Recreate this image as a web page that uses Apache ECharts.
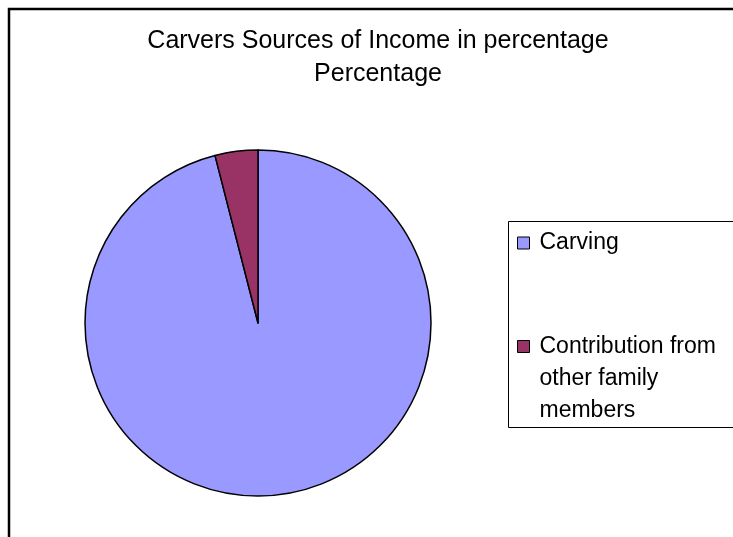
<!DOCTYPE html>
<html>
<head>
<meta charset="utf-8">
<script src="https://cdn.jsdelivr.net/npm/echarts@6/dist/echarts.min.js"></script>
<style>
html,body{margin:0;padding:0;background:#fff;}
#chart{width:733px;height:537px;}
</style>
</head>
<body>
<div id="chart"></div>
<script>
var titleLines = ['Carvers Sources of Income in percentage', 'Percentage'];
var categories = ['Carving', 'Contribution from other family members'];
var legendLabels = ['Carving', '\n\nContribution from\nother family\nmembers'];
var values = [96, 4];
var colors = ['#9999FF', '#993366'];

var chart = echarts.init(document.getElementById('chart'), null, {renderer: 'canvas'});
var font = 'Liberation Sans, Arial, sans-serif';

var legendText = {};
categories.forEach(function (c, i) { legendText[c] = legendLabels[i]; });

var squareIcon = 'path://M0,0L12,0L12,12L0,12Z';

function makeLegend(i, top, lh) {
  return {
    orient: 'vertical', left: 517, top: top, padding: 0,
    itemWidth: 22, itemHeight: 12, itemGap: 10,
    icon: squareIcon,
    symbolKeepAspect: true,
    data: [{name: categories[i], icon: squareIcon, itemStyle: {borderColor: '#000', borderWidth: 1}}],
    formatter: function (n) { return legendText[n]; },
    textStyle: {fontFamily: font, fontSize: 23, color: '#000', lineHeight: lh}
  };
}

var option = {
  backgroundColor: '#fff',
  animation: false,
  title: {
    text: titleLines.join('\n'),
    left: 378,
    top: 25,
    textAlign: 'center',
    padding: 0,
    textStyle: {fontFamily: font, fontSize: 25, fontWeight: 'normal', color: '#000', lineHeight: 33}
  },
  graphic: [
    {type: 'rect', silent: true, z: -1, shape: {x: 9, y: 9, width: 800, height: 600},
      style: {fill: 'none', stroke: '#000', lineWidth: 2.5}},
    {type: 'rect', silent: true, z: -1, shape: {x: 508.5, y: 221.5, width: 300, height: 206},
      style: {fill: '#fff', stroke: '#000', lineWidth: 1}}
  ],
  legend: [makeLegend(0, 227.5, 31), makeLegend(1, 266.5, 32)],
  series: [{
    type: 'pie',
    center: [258, 323],
    radius: [0, 173],
    startAngle: 90,
    clockwise: true,
    label: {show: false},
    labelLine: {show: false},
    emphasis: {disabled: true},
    itemStyle: {borderColor: '#000', borderWidth: 1.5},
    data: categories.map(function (c, i) {
      return {name: c, value: values[i], itemStyle: {color: colors[i]}};
    })
  }]
};
chart.setOption(option);
</script>
</body>
</html>
